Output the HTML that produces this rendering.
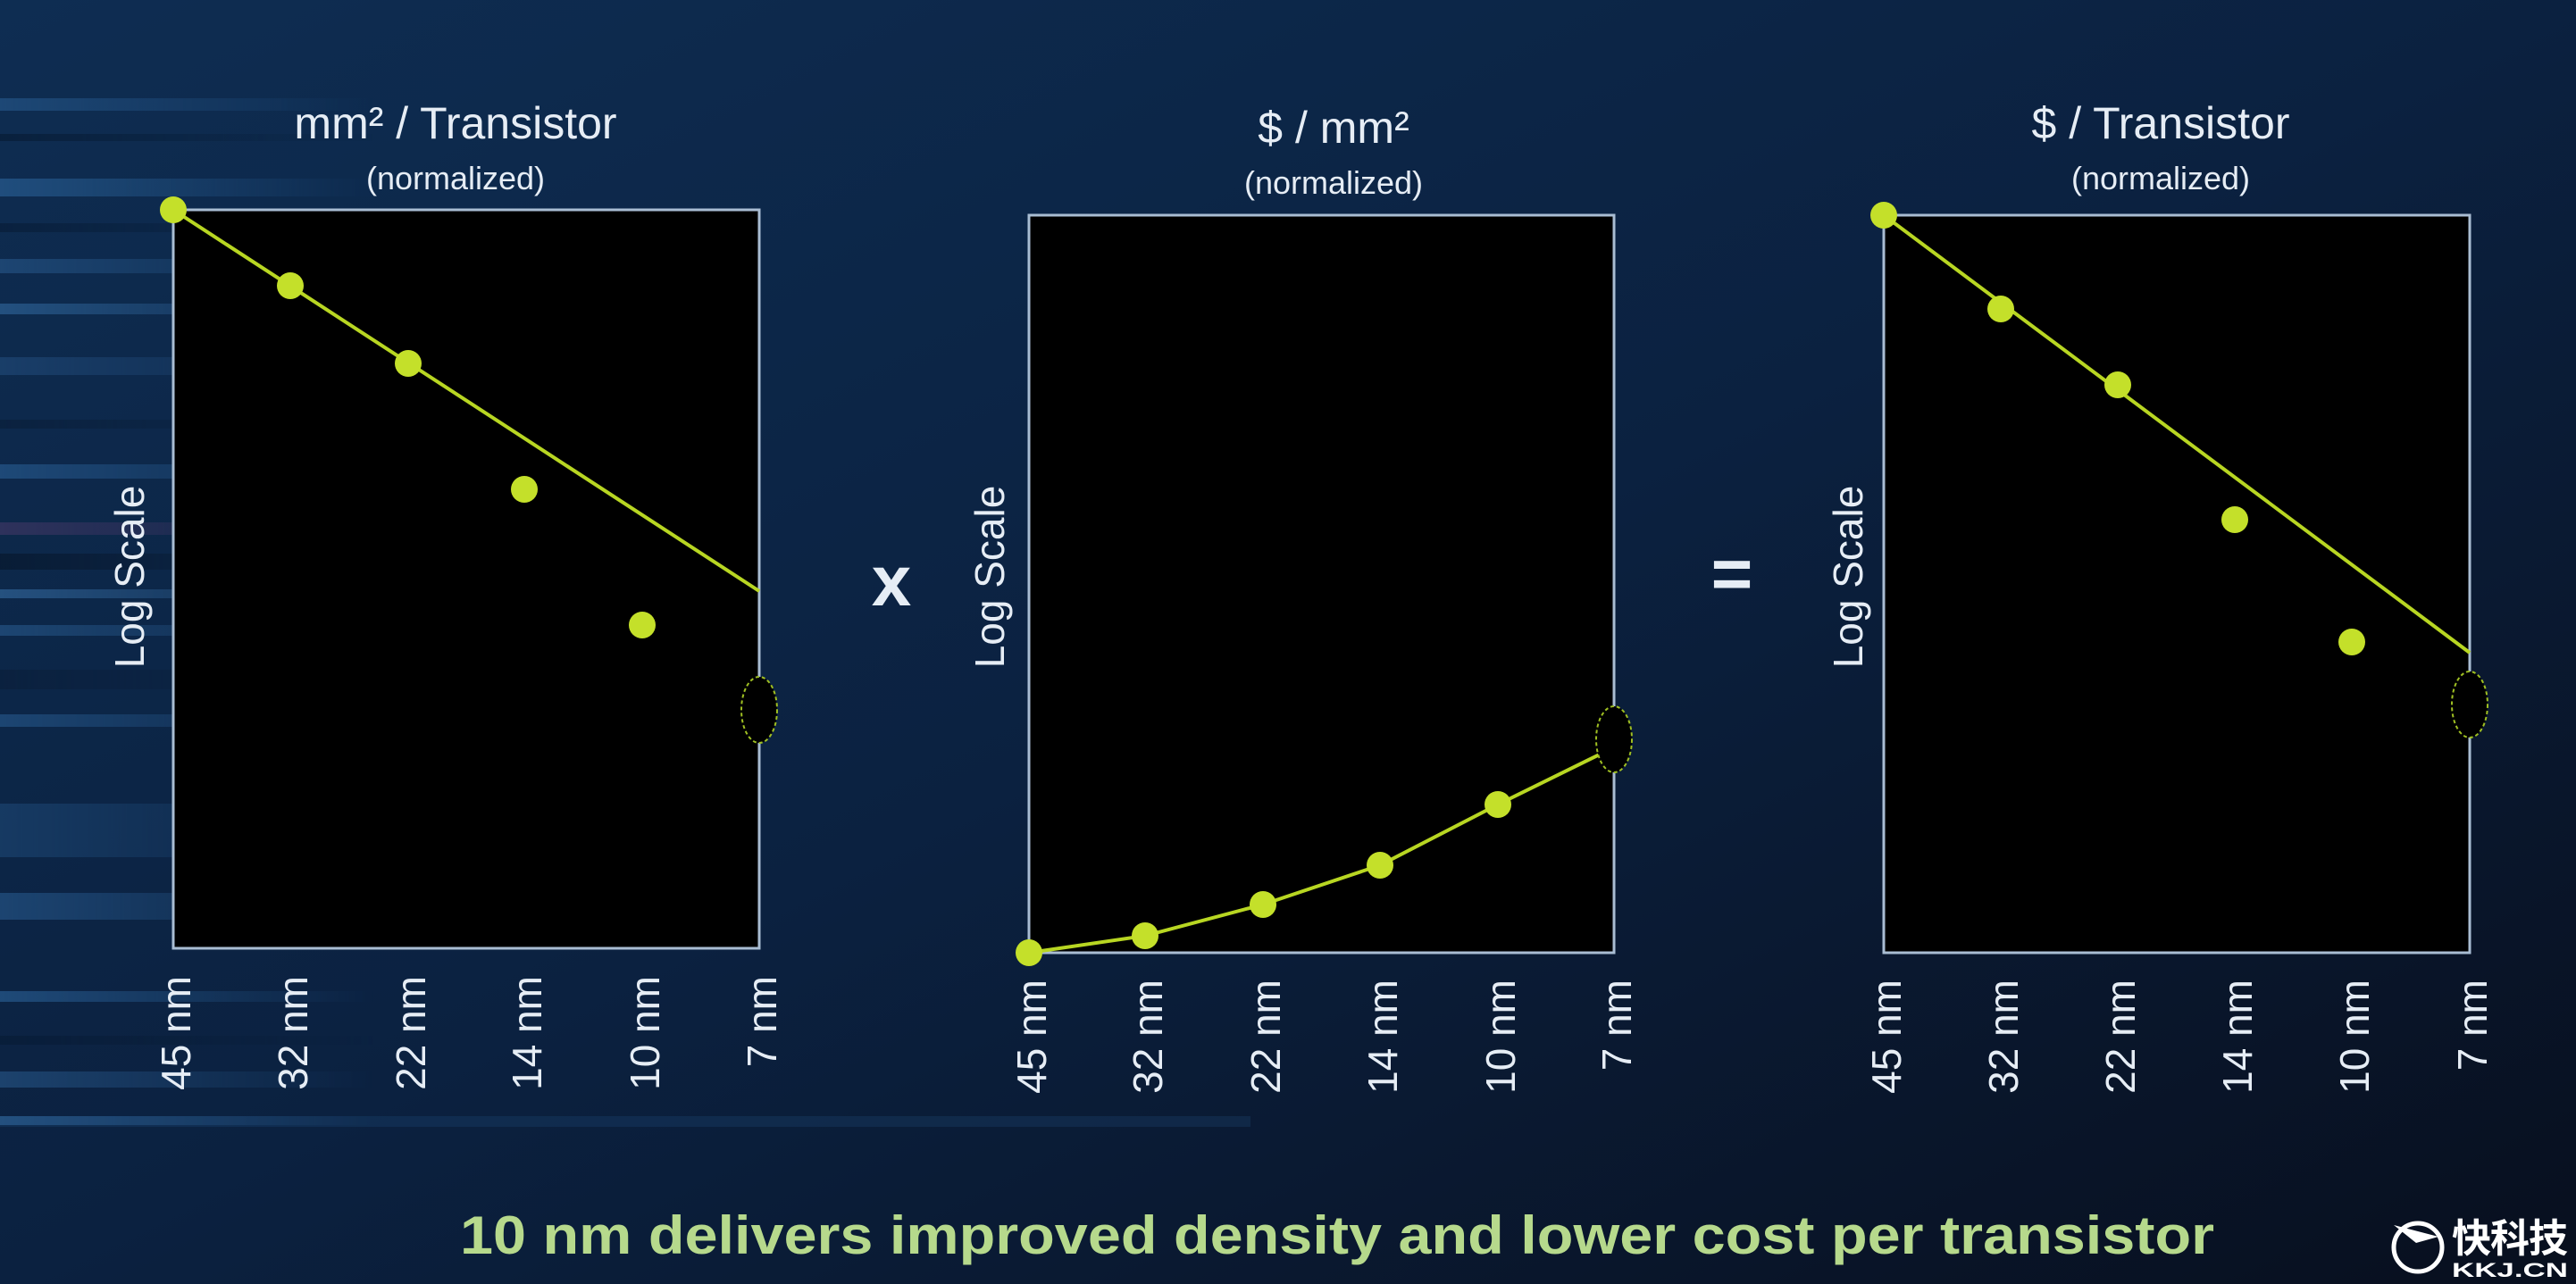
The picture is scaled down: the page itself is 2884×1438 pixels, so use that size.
<!DOCTYPE html>
<html><head><meta charset="utf-8"><style>
html,body{margin:0;padding:0;background:#0b1f3a;}
svg{display:block}
</style></head><body>
<svg width="2884" height="1438" viewBox="0 0 2884 1438" xmlns="http://www.w3.org/2000/svg" font-family="Liberation Sans, sans-serif">
<defs>
<linearGradient id="bg" x1="0" y1="0" x2="1" y2="1">
<stop offset="0" stop-color="#0e2d52"/><stop offset="0.5" stop-color="#0b2140"/><stop offset="1" stop-color="#080f1e"/>
</linearGradient>
<linearGradient id="fade" x1="0" y1="0" x2="1" y2="0">
<stop offset="0" stop-color="#fff" stop-opacity="1"/><stop offset="1" stop-color="#fff" stop-opacity="0"/>
</linearGradient>
<mask id="m"><rect x="0" y="0" width="420" height="1438" fill="url(#fade)"/></mask>
</defs>
<rect width="2884" height="1438" fill="url(#bg)"/>
<g mask="url(#m)" opacity="0.55">
<rect x="0" y="110" width="420" height="14" fill="#2a5f95"/>
<rect x="0" y="150" width="420" height="8" fill="#06182e"/>
<rect x="0" y="200" width="420" height="20" fill="#2f6aa3"/>
<rect x="0" y="250" width="420" height="10" fill="#071a33"/>
<rect x="0" y="290" width="420" height="16" fill="#2a5c90"/>
<rect x="0" y="340" width="420" height="12" fill="#3670a8"/>
<rect x="0" y="400" width="420" height="20" fill="#244f80"/>
<rect x="0" y="470" width="420" height="10" fill="#091c36"/>
<rect x="0" y="520" width="420" height="16" fill="#2c649c"/>
<rect x="0" y="585" width="420" height="14" fill="#4a3a6a"/>
<rect x="0" y="620" width="420" height="18" fill="#061426"/>
<rect x="0" y="660" width="420" height="10" fill="#3a74ac"/>
<rect x="0" y="700" width="420" height="12" fill="#2b5f94"/>
<rect x="0" y="750" width="420" height="22" fill="#0a1d38"/>
<rect x="0" y="800" width="420" height="14" fill="#2a5f95"/>
<rect x="0" y="900" width="420" height="60" fill="#1f4b7a"/>
<rect x="0" y="1000" width="420" height="30" fill="#2a5f95"/>
<rect x="0" y="1110" width="420" height="12" fill="#2f6aa3"/>
<rect x="0" y="1160" width="420" height="10" fill="#071a33"/>
<rect x="0" y="1200" width="420" height="18" fill="#2a5c90"/>
<rect x="0" y="1250" width="420" height="10" fill="#3670a8"/>
</g>
<rect x="0" y="1250" width="1400" height="12" fill="#2a5f95" opacity="0.2"/>

<g fill="#e6edf5" text-anchor="middle">
<text x="510" y="155" font-size="50">mm² / Transistor</text>
<text x="510" y="212" font-size="36">(normalized)</text>
<text x="1493" y="160" font-size="50">$ / mm²</text>
<text x="1493" y="217" font-size="36">(normalized)</text>
<text x="2419" y="155" font-size="50">$ / Transistor</text>
<text x="2419" y="212" font-size="36">(normalized)</text>
<text x="998" y="678" font-size="80" font-weight="bold">x</text>
<text x="1939" y="670" font-size="80" font-weight="bold">=</text>
</g>

<!-- chart 1 -->
<rect x="194" y="235" width="656" height="827" fill="#000" stroke="#a9bdd3" stroke-width="3"/>
<text transform="translate(161,646) rotate(-90)" text-anchor="middle" font-size="46" fill="#e6edf5">Log Scale</text>
<line x1="194" y1="235" x2="850" y2="662" stroke="#b8d622" stroke-width="4"/>
<g fill="#c4e02a"><circle cx="194" cy="235" r="15"/><circle cx="325" cy="320" r="15"/><circle cx="457" cy="407" r="15"/><circle cx="587" cy="548" r="15"/><circle cx="719" cy="700" r="15"/></g>
<ellipse cx="850" cy="795" rx="20" ry="37" fill="#000" stroke="#9fbf22" stroke-width="2" stroke-dasharray="4 3"/>
<g font-size="46" fill="#e6edf5" text-anchor="end">
<text transform="translate(213,1093) rotate(-90)">45 nm</text>
<text transform="translate(344,1093) rotate(-90)">32 nm</text>
<text transform="translate(476,1093) rotate(-90)">22 nm</text>
<text transform="translate(606,1093) rotate(-90)">14 nm</text>
<text transform="translate(738,1093) rotate(-90)">10 nm</text>
<text transform="translate(869,1093) rotate(-90)">7 nm</text>
</g>

<!-- chart 2 -->
<rect x="1152" y="241" width="655" height="826" fill="#000" stroke="#a9bdd3" stroke-width="3"/>
<text transform="translate(1124,646) rotate(-90)" text-anchor="middle" font-size="46" fill="#e6edf5">Log Scale</text>
<polyline points="1152,1067 1282,1048 1414,1013 1545,969 1677,901 1807,837" fill="none" stroke="#b8d622" stroke-width="4"/>
<g fill="#c4e02a"><circle cx="1152" cy="1067" r="15"/><circle cx="1282" cy="1048" r="15"/><circle cx="1414" cy="1013" r="15"/><circle cx="1545" cy="969" r="15"/><circle cx="1677" cy="901" r="15"/></g>
<ellipse cx="1807" cy="828" rx="20" ry="37" fill="#000" stroke="#9fbf22" stroke-width="2" stroke-dasharray="4 3"/>
<g font-size="46" fill="#e6edf5" text-anchor="end">
<text transform="translate(1171,1097) rotate(-90)">45 nm</text>
<text transform="translate(1301,1097) rotate(-90)">32 nm</text>
<text transform="translate(1433,1097) rotate(-90)">22 nm</text>
<text transform="translate(1564,1097) rotate(-90)">14 nm</text>
<text transform="translate(1696,1097) rotate(-90)">10 nm</text>
<text transform="translate(1826,1097) rotate(-90)">7 nm</text>
</g>

<!-- chart 3 -->
<rect x="2109" y="241" width="656" height="826" fill="#000" stroke="#a9bdd3" stroke-width="3"/>
<text transform="translate(2085,646) rotate(-90)" text-anchor="middle" font-size="46" fill="#e6edf5">Log Scale</text>
<line x1="2109" y1="241" x2="2765" y2="731" stroke="#b8d622" stroke-width="4"/>
<g fill="#c4e02a"><circle cx="2109" cy="241" r="15"/><circle cx="2240" cy="346" r="15"/><circle cx="2371" cy="431" r="15"/><circle cx="2502" cy="582" r="15"/><circle cx="2633" cy="719" r="15"/></g>
<ellipse cx="2765" cy="789" rx="20" ry="37" fill="#000" stroke="#9fbf22" stroke-width="2" stroke-dasharray="4 3"/>
<g font-size="46" fill="#e6edf5" text-anchor="end">
<text transform="translate(2128,1097) rotate(-90)">45 nm</text>
<text transform="translate(2259,1097) rotate(-90)">32 nm</text>
<text transform="translate(2390,1097) rotate(-90)">22 nm</text>
<text transform="translate(2521,1097) rotate(-90)">14 nm</text>
<text transform="translate(2652,1097) rotate(-90)">10 nm</text>
<text transform="translate(2784,1097) rotate(-90)">7 nm</text>
</g>

<text x="515" y="1404" font-size="60" font-weight="bold" fill="#b6d98c" textLength="1964" lengthAdjust="spacingAndGlyphs">10 nm delivers improved density and lower cost per transistor</text>

<!-- logo -->
<circle cx="2707" cy="1397" r="27" fill="none" stroke="#fff" stroke-width="5"/>
<path d="M2680 1372 L2730 1385 L2705 1392 Z" fill="#fff"/>
<text x="2745" y="1402" font-size="44" font-weight="bold" fill="#fff" font-family="Liberation Sans, Noto Sans CJK SC, sans-serif" textLength="130">快科技</text>
<text x="2745" y="1430" font-size="22" font-weight="bold" fill="#fff" textLength="130" lengthAdjust="spacingAndGlyphs">KKJ.CN</text>
</svg>
</body></html>
